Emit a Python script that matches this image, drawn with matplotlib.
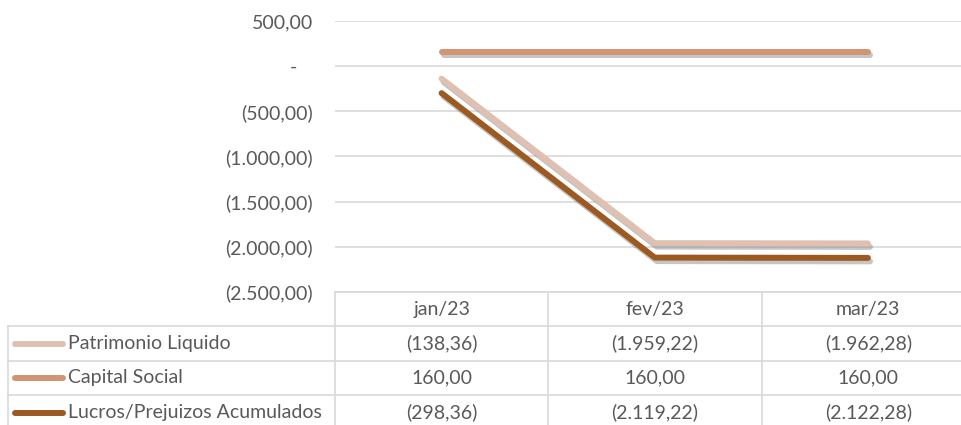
import matplotlib
matplotlib.use("Agg")
import matplotlib.pyplot as plt
import matplotlib.patheffects as pe
from matplotlib.lines import Line2D

months = ["jan/23", "fev/23", "mar/23"]
series_names = ["Patrimonio Liquido", "Capital Social", "Lucros/Prejuizos Acumulados"]
patrimonio = [-138.36, -1959.22, -1962.28]
capital = [160.00, 160.00, 160.00]
lucros = [-298.36, -2119.22, -2122.28]
yticks = [500, 0, -500, -1000, -1500, -2000, -2500]

colors = ["#E0C0B1", "#D29472", "#9C5A22"]
text_color = "#595959"
grid_color = "#D9D9D9"
fs = 14

W, H = 962, 425
plt.rcParams["font.family"] = ["Lato", "DejaVu Sans"]


def fmt(v):
    # Excel accounting style: 1.234,56 and negatives in brackets
    if v == 0:
        return "-"
    s = f"{abs(v):,.2f}".replace(",", "X").replace(".", ",").replace("X", ".")
    return f"({s})" if v < 0 else s


def px(x, y):
    return x / W, 1 - y / H


fig = plt.figure(figsize=(W / 100, H / 100), dpi=100)
left, right, top, bottom = 335, 962, 21, 292
ax = fig.add_axes([left / W, 1 - bottom / H, (right - left) / W, (bottom - top) / H])

x = list(range(len(months)))
for vals, c in zip([patrimonio, capital, lucros], colors):
    ax.plot(x, vals, color=c, lw=4.3, solid_capstyle="round", solid_joinstyle="round",
            path_effects=[pe.SimpleLineShadow(offset=(1.5, -2.5), shadow_color="#7f7f7f", alpha=0.45),
                          pe.Normal()], zorder=3)

ax.set_xlim(-0.5, (right - 442) / 213)
ax.set_ylim(-2500, 500)
ax.set_yticks(yticks)
ax.set_yticklabels([fmt(v) if v != 0 else "-   " for v in yticks])
ax.tick_params(axis="y", length=0, pad=16, labelsize=fs, labelcolor=text_color)
ax.set_xticks([])
ax.grid(axis="y", color=grid_color, lw=1.2)
for sp in ax.spines.values():
    sp.set_visible(False)

# data table under the plot
def hline(x0, x1, y):
    fig.add_artist(Line2D([px(x0, y)[0], px(x1, y)[0]], [px(x0, y)[1]] * 2, color=grid_color, lw=1.2))


def vline(xp, y0, y1):
    fig.add_artist(Line2D([px(xp, y0)[0]] * 2, [px(xp, y0)[1], px(xp, y1)[1]], color=grid_color, lw=1.2))


col_w = 213.3
centers = [left + col_w * (i + 0.5) for i in range(len(months))]
row_tops = [292, 326, 361, 395, 430]
hline(left, W, row_tops[0])
for yy in row_tops[1:4]:
    hline(8, W, yy)
vline(left, row_tops[0], H)
vline(8, row_tops[1], H)
for i in range(1, len(months)):
    vline(left + col_w * i, row_tops[0], H)

for c, m in zip(centers, months):
    fig.text(*px(c, (row_tops[0] + row_tops[1]) / 2), m, ha="center", va="center",
             color=text_color, fontsize=fs)

for r, (name, vals, col) in enumerate(zip(series_names, [patrimonio, capital, lucros], colors)):
    yc = (row_tops[r + 1] + row_tops[r + 2]) / 2
    fig.add_artist(Line2D([px(15, yc)[0], px(63, yc)[0]], [px(15, yc)[1]] * 2, color=col,
                          lw=4.3, solid_capstyle="round"))
    fig.text(*px(68, yc), name, ha="left", va="center", color=text_color, fontsize=fs)
    for c, v in zip(centers, vals):
        fig.text(*px(c, yc), fmt(v), ha="center", va="center", color=text_color, fontsize=fs)

fig.savefig("out.png", dpi=100)
